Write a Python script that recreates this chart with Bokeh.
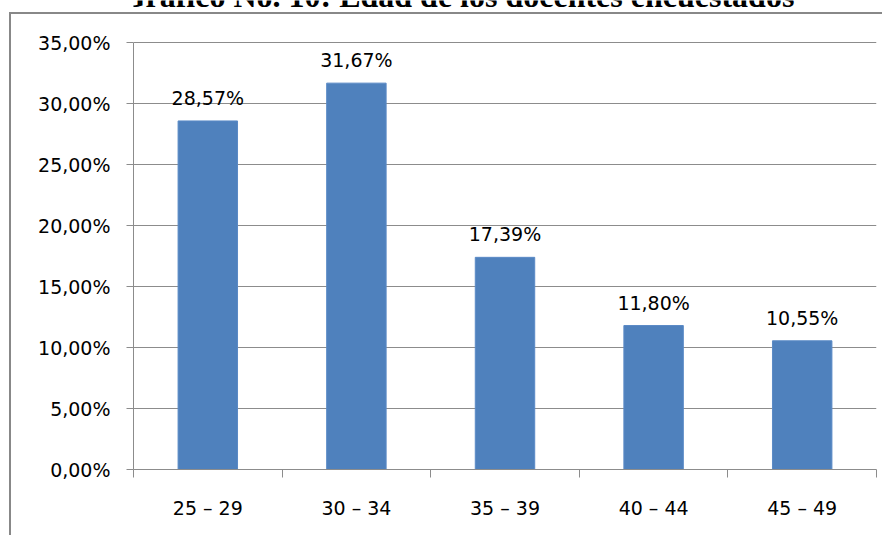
from bokeh.plotting import figure
from bokeh.models import FixedTicker, Label, ColumnDataSource
from bokeh.core.properties import value
from bokeh.embed import file_html
from bokeh.resources import INLINE

# ---- data ----
categories = ["25 – 29", "30 – 34", "35 – 39", "40 – 44", "45 – 49"]
percentages = [0.2857, 0.3167, 0.1739, 0.1180, 0.1055]
bar_labels = ["28,57%", "31,67%", "17,39%", "11,80%", "10,55%"]
y_ticks = [0.0, 0.05, 0.10, 0.15, 0.20, 0.25, 0.30, 0.35]
y_tick_labels = ["0,00%", "5,00%", "10,00%", "15,00%", "20,00%", "25,00%", "30,00%", "35,00%"]
title_text = "Gráfico No. 10: Edad de los docentes encuestados"

n = len(categories)
x_centers = [i + 0.5 for i in range(n)]
y_max = y_ticks[-1]
# the plotting frame runs up to the top of the picture; the axis itself ends at 35 %
y_top = y_max * 469 / 427

GRID = "#8c8c8c"
BAR = "#4f81bd"
FONT = "DejaVu Sans"

p = figure(width=882, height=535, output_backend="svg", toolbar_location=None,
           x_range=(0, n), y_range=(0, y_top),
           min_border_left=133, min_border_right=6, min_border_top=0, min_border_bottom=66)
p.outline_line_color = None
p.background_fill_alpha = 0
p.border_fill_alpha = 0
# outer chart frame (only its left and top edges are visible in the source)
p.styles = {
    "background": "linear-gradient(#888888, #888888) 9px 12px / 2px 100% no-repeat, "
                  "linear-gradient(#888888, #888888) 9px 12px / 100% 2px no-repeat, white"
}

src = ColumnDataSource(dict(x=x_centers, top=percentages, label=bar_labels))
p.vbar(x="x", top="top", bottom=0, width=0.4, source=src,
       fill_color=BAR, line_color="#5a8ac6", line_width=1)
p.text(x="x", y="top", text="label", source=src, text_align="center",
       text_baseline="alphabetic", y_offset=-23, text_font=value(FONT),
       text_font_size="19px", text_color="#000000")

# y axis
p.yaxis.ticker = FixedTicker(ticks=y_ticks)
p.yaxis.bounds = (0, y_max)
p.yaxis.major_label_overrides = {t: l for t, l in zip(y_ticks, y_tick_labels)}
p.yaxis.axis_line_color = GRID
p.yaxis.major_tick_line_color = GRID
p.yaxis.major_tick_out = 7
p.yaxis.major_tick_in = 0
p.yaxis.minor_tick_line_color = None
p.yaxis.major_label_text_font = FONT
p.yaxis.major_label_text_font_size = "19px"
p.yaxis.major_label_text_color = "#000000"
p.yaxis.major_label_standoff = 16

# x axis
p.xaxis.ticker = FixedTicker(ticks=x_centers, minor_ticks=list(range(n + 1)))
p.xaxis.major_label_overrides = {c: l for c, l in zip(x_centers, categories)}
p.xaxis.axis_line_color = GRID
p.xaxis.major_tick_line_color = None
p.xaxis.major_tick_out = 0
p.xaxis.major_tick_in = 0
p.xaxis.minor_tick_line_color = GRID
p.xaxis.minor_tick_out = 8
p.xaxis.minor_tick_in = 0
p.xaxis.major_label_text_font = FONT
p.xaxis.major_label_text_font_size = "19px"
p.xaxis.major_label_text_color = "#000000"
p.xaxis.major_label_standoff = 19

p.xgrid.grid_line_color = None
p.ygrid.grid_line_color = GRID
p.ygrid.grid_line_width = 1

# title (partly cut at the top as in the source image)
title = Label(x=2.18, y=y_max + 0.038, text=title_text, text_align="center",
              text_baseline="alphabetic", text_font="Liberation Serif",
              text_font_style="bold", text_font_size="32px", text_color="#000000")
p.add_layout(title)

open("out.html", "w").write(file_html(p, INLINE))
